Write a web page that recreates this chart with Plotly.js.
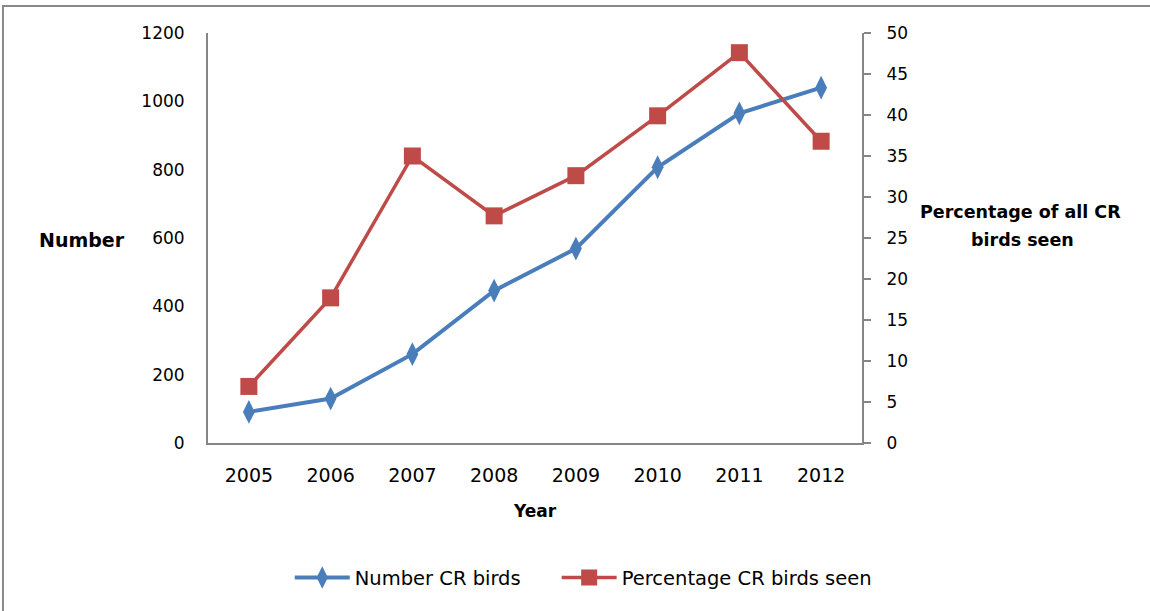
<!DOCTYPE html>
<html>
<head>
<meta charset="utf-8">
<script src="https://cdn.plot.ly/plotly-3.0.1.min.js"></script>
<style>html,body{margin:0;padding:0;background:#fff;}#chart{width:1150px;height:611px;}</style>
</head>
<body>
<div id="chart"></div>
<script>
const years = ["2005","2006","2007","2008","2009","2010","2011","2012"];
const numberCR = [91, 130, 260, 446, 569, 807, 965, 1040];
const percentSeen = [6.9, 17.7, 35.0, 27.7, 32.6, 39.9, 47.6, 36.8];
const leftTicks = [0, 200, 400, 600, 800, 1000, 1200];
const rightTicks = [0, 5, 10, 15, 20, 25, 30, 35, 40, 45, 50];

const FONT = "DejaVu Sans, sans-serif";
const AXIS = "#868686";
const PAD = "\u00a0\u00a0\u00a0\u00a0\u00a0";

const traces = [
  {
    x: years, y: numberCR, name: "Number CR birds" + PAD, type: "scatter", mode: "lines+markers",
    line: {color: "#4A7EBB", width: 4},
    marker: {symbol: "diamond-tall", size: 17, color: "#4A7EBB"},
    yaxis: "y"
  },
  {
    x: years, y: percentSeen, name: "Percentage CR birds seen", type: "scatter", mode: "lines+markers",
    line: {color: "#BE4B48", width: 3.5},
    marker: {symbol: "square", size: 17, color: "#BE4B48"},
    yaxis: "y2"
  }
];

const layout = {
  width: 1150, height: 611,
  margin: {l: 208, r: 288, t: 33, b: 168},
  paper_bgcolor: "#fff", plot_bgcolor: "#fff",
  font: {family: FONT, size: 17, color: "#000"},
  showlegend: true,
  legend: {orientation: "h", x: 0.125, y: -0.329, xanchor: "left", yanchor: "middle",
           font: {family: FONT, size: 19.5, color: "#000"}, itemwidth: 55, bgcolor: "rgba(0,0,0,0)"},
  xaxis: {type: "category", range: [-0.5, 7.5], showgrid: false, zeroline: false,
          showline: true, linecolor: AXIS, linewidth: 2, ticks: "", ticklabelstandoff: 14,
          tickfont: {family: FONT, size: 19, color: "#000"}, fixedrange: true},
  yaxis: {range: [0, 1200], tickvals: leftTicks, showgrid: false, zeroline: false,
          showline: true, linecolor: AXIS, linewidth: 2, ticks: "", ticklabelstandoff: 18,
          tickfont: {family: FONT, size: 17, color: "#000"}},
  yaxis2: {range: [0, 50], tickvals: rightTicks, overlaying: "y", side: "right", showgrid: false, zeroline: false,
           showline: true, linecolor: AXIS, linewidth: 2, ticks: "outside", ticklen: 7, tickcolor: AXIS, tickwidth: 1.5,
           ticklabelstandoff: 12, tickfont: {family: FONT, size: 17, color: "#000"}},
  shapes: [
    {type: "rect", xref: "paper", yref: "paper", x0: -0.3135, x1: 1.456, y0: -0.432, y1: 1.0659,
     line: {color: "#888", width: 2}, fillcolor: "rgba(0,0,0,0)", layer: "below"}
  ],
  annotations: [
    {text: "<b>Number</b>", xref: "paper", yref: "paper", x: -0.1927, y: 0.495, xanchor: "center", yanchor: "middle",
     showarrow: false, font: {family: FONT, size: 19, color: "#000"}},
    {text: "<b>Percentage of all CR</b>", xref: "paper", yref: "paper", x: 1.243, y: 0.5634, xanchor: "center", yanchor: "middle",
     showarrow: false, font: {family: FONT, size: 17.5, color: "#000"}},
    {text: "<b>birds seen</b>", xref: "paper", yref: "paper", x: 1.245, y: 0.4951, xanchor: "center", yanchor: "middle",
     showarrow: false, font: {family: FONT, size: 17.5, color: "#000"}},
    {text: "<b>Year</b>", xref: "paper", yref: "paper", x: 0.5, y: -0.166, xanchor: "center", yanchor: "middle",
     showarrow: false, font: {family: FONT, size: 17, color: "#000"}}
  ]
};

Plotly.newPlot("chart", traces, layout, {displayModeBar: false, staticPlot: true});
</script>
</body>
</html>
